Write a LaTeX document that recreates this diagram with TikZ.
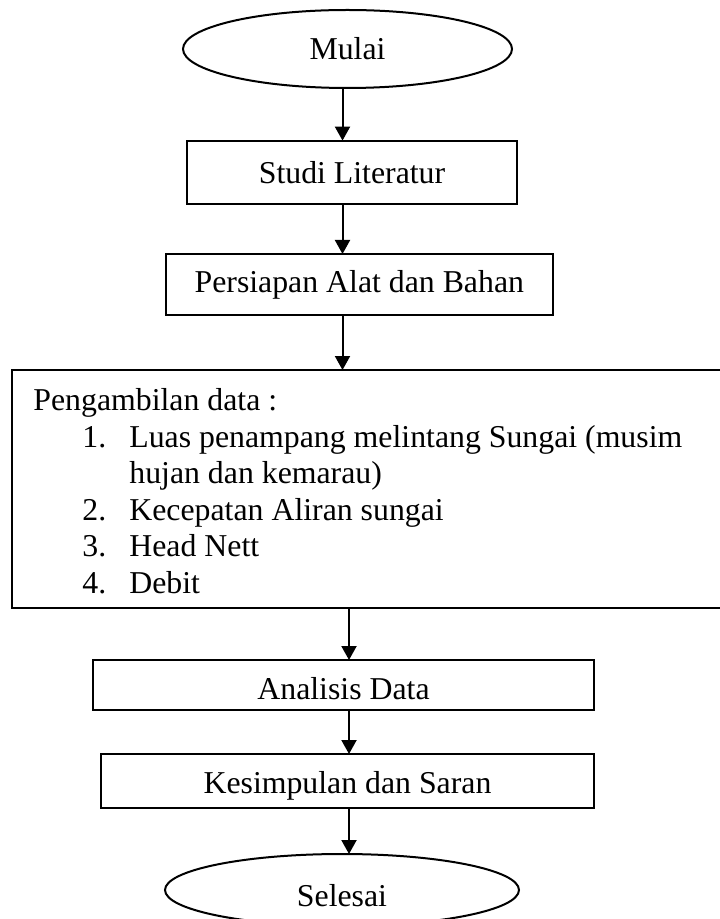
\documentclass[tikz,border=0pt]{standalone}
\usepackage{fontspec}
\setmainfont{Liberation Serif}
\usetikzlibrary{shapes.geometric,arrows.meta}
\begin{document}
\begin{tikzpicture}[x=0.5pt,y=-0.5pt,
    tulisan/.style={font=\fontsize{15.9}{18.3}\selectfont},
    kotak/.style={tulisan,draw,line width=1pt,rectangle,inner sep=0pt,outer sep=0pt},
    elips/.style={tulisan,draw,line width=1pt,ellipse,inner sep=0pt,outer sep=0pt},
    panah/.style={line width=1pt,-{Triangle[length=7pt,width=7.5pt]}}]
                \useasboundingbox (0,0) rectangle (719,919);
                \node[elips,minimum width=164.5pt,minimum height=39pt] (mulai) at (347.5,49) {Mulai};
                \node[kotak,minimum width=164.7pt,minimum height=31.7pt] (studi) at (352,172.3) {Studi Literatur};
                \node[kotak,minimum width=193.3pt,minimum height=30.5pt] (persiapan) at (359.3,284.5) {Persiapan Alat dan Bahan};
                \node[kotak,minimum width=364pt,minimum height=119pt] (ambil) at (376,489) {};
                \node[tulisan,anchor=north west,inner sep=0pt,align=left] (daftar) at (33,388) {Pengambilan data :\\
                    \hspace*{24.5pt}\makebox[23.5pt][l]{1.}Luas penampang melintang Sungai (musim\\
                    \hspace*{48pt}hujan dan kemarau)\\
                    \hspace*{24.5pt}\makebox[23.5pt][l]{2.}Kecepatan Aliran sungai\\
                    \hspace*{24.5pt}\makebox[23.5pt][l]{3.}Head Nett\\
                    \hspace*{24.5pt}\makebox[23.5pt][l]{4.}Debit};
                \node[kotak,minimum width=250.5pt,minimum height=25pt,text height=15pt] (analisis) at (343.5,685) {Analisis Data};
                \node[kotak,minimum width=246.5pt,minimum height=27pt,text height=15.4pt] (kesimpulan) at (347.5,781) {Kesimpulan dan Saran};
                \node[elips,minimum width=177pt,minimum height=36pt,text height=16pt,text depth=0pt] (selesai) at (342,890) {Selesai};
                % jalur panah
                \coordinate (atas) at (342.5,0);
                \coordinate (bawah) at (349,0);
                \draw[panah] (mulai.south -| atas) -- (studi.north -| atas);
                \draw[panah] (studi.south -| atas) -- (persiapan.north -| atas);
                \draw[panah] (persiapan.south -| atas) -- (ambil.north -| atas);
                \draw[panah] (ambil.south -| bawah) -- (analisis.north -| bawah);
                \draw[panah] (analisis.south -| bawah) -- (kesimpulan.north -| bawah);
                \draw[panah] (kesimpulan.south -| bawah) -- (selesai.north -| bawah);
            \end{tikzpicture}
\end{document}
